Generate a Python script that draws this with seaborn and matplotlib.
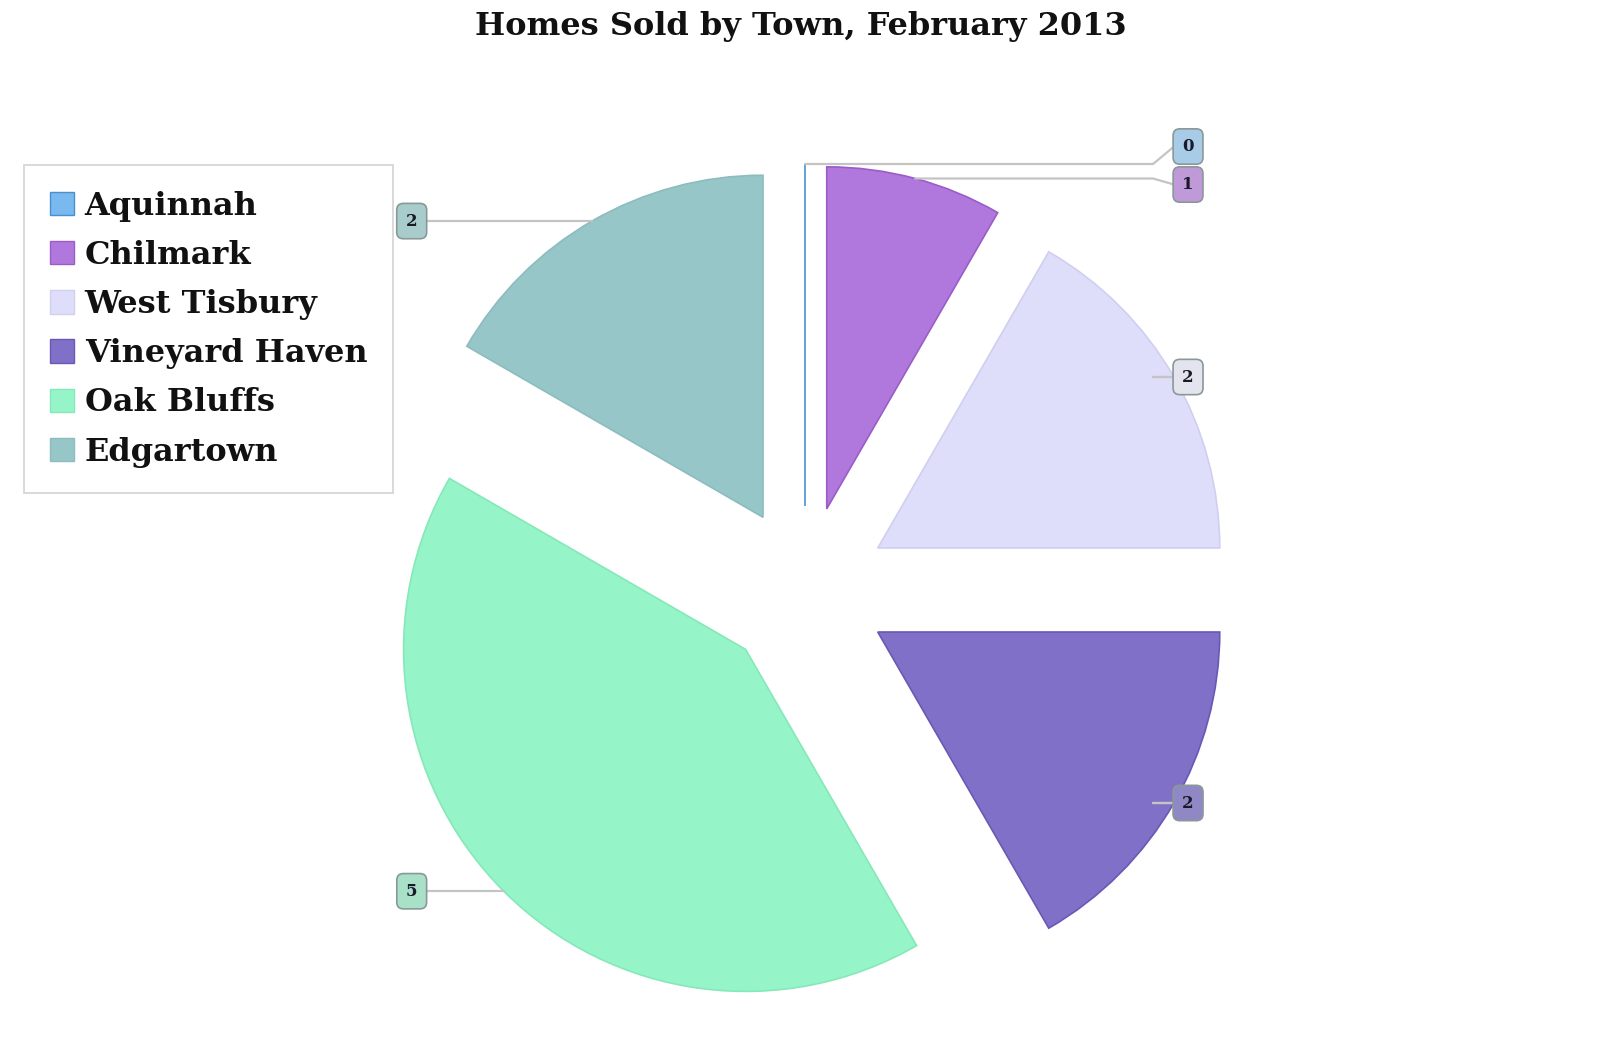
import numpy as np
import matplotlib.pyplot as plt
import seaborn as sns
from matplotlib.patches import Patch

# data
towns = ['Aquinnah', 'Chilmark', 'West Tisbury', 'Vineyard Haven', 'Oak Bluffs', 'Edgartown']
homes_sold = [0, 1, 2, 2, 5, 2]
colors = ['#7ab8f0', '#b078dc', '#dedefa', '#8070c8', '#96f5c8', '#96c6c8']
edge_colors = ['#4a90d0', '#9a5cc8', '#cfcff0', '#6a58b4', '#86e8b8', '#8cbcbe']
badge_colors = ['#a8cce8', '#c09ad8', '#e4e4ee', '#9088c4', '#a8e0c8', '#a8cccc']

sns.set_theme(style='white')
plt.rcParams['font.family'] = ['DejaVu Serif']

W, H = 1600, 1057
fig = plt.figure(figsize=(16, 10.57), dpi=100)
ax = fig.add_axes([0, 0, 1, 1])

# pie in pixel coordinates (explode is in data units here)
cx, cy, r = 805, H - 590, 342
wedges, _ = ax.pie(homes_sold, colors=colors, startangle=90, counterclock=False,
                   explode=[84] * len(homes_sold), center=(cx, cy), radius=r,
                   wedgeprops=dict(linewidth=1.2))
for w, ec in zip(wedges, edge_colors):
    w.set_edgecolor(ec)
ax.set_xlim(0, W)
ax.set_ylim(0, H)
ax.set_aspect('auto')
ax.axis('off')

# value badges with leader lines
labels = []
for w, v, bc in zip(wedges, homes_sold, badge_colors):
    ang = np.deg2rad((w.theta1 + w.theta2) / 2)
    px = w.center[0] + w.r * np.cos(ang)
    py = w.center[1] + w.r * np.sin(ang)
    side = 1 if px >= cx - 1 else -1
    bx = cx + 1.12 * r if side > 0 else cx - 1.15 * r
    labels.append(dict(px=px, py=py, bx=bx, by=py, side=side, v=v, bc=bc))

# push overlapping badges apart
for s in (1, -1):
    grp = sorted([l for l in labels if l['side'] == s], key=lambda l: l['by'])
    for a, b in zip(grp, grp[1:]):
        if b['by'] - a['by'] < 38:
            a['by'] -= 6
            b['by'] = a['by'] + 38

for l in labels:
    kx = l['bx'] - 35 * l['side']
    ax.plot([l['px'], kx, l['bx'] - 14 * l['side']], [l['py'], l['py'], l['by']],
            color='#c4c4c4', lw=1.6, zorder=1)
    ax.text(l['bx'], l['by'], str(l['v']), ha='center', va='center',
            fontsize=12, fontweight='bold', color='#1a1a2a', zorder=5,
            bbox=dict(boxstyle='round,pad=0.55,rounding_size=0.4', fc=l['bc'],
                      ec='#8a9898', lw=1.2))

fig.text(801 / W, 1 - 26 / H, 'Homes Sold by Town, February 2013', ha='center',
         va='center', fontsize=23, fontweight='bold', color='#111111')

handles = [Patch(facecolor=c, edgecolor=ec, label=t)
           for t, c, ec in zip(towns, colors, edge_colors)]
leg = fig.legend(handles=handles, loc='upper left', bbox_to_anchor=(24 / W, 1 - 165 / H),
                 frameon=True, fancybox=False, edgecolor='#c8c8c8',
                 prop={'weight': 'bold', 'size': 23, 'family': 'DejaVu Serif'},
                 handlelength=0.75, handleheight=0.75, handletextpad=0.35,
                 labelspacing=0.57, borderpad=0.8, borderaxespad=0)
leg.get_frame().set_linewidth(1.2)
for t in leg.get_texts():
    t.set_color('#111111')

fig.savefig('out.png', dpi=100, facecolor='white')
